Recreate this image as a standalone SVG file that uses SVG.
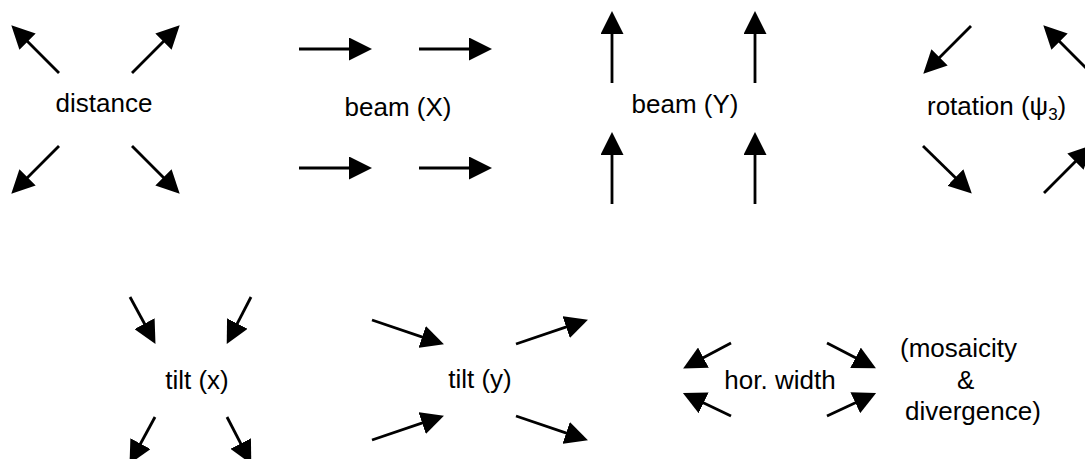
<svg xmlns="http://www.w3.org/2000/svg" width="1085" height="459" viewBox="0 0 1085 459">
  <style>
    .lbl { font-family: "Liberation Sans", Arial, sans-serif; font-size: 26px; fill: #000; }
    .mid { text-anchor: middle; }
    .arr { stroke: #000; stroke-width: 2.8; fill: none; marker-end: url(#head); }
  </style>
  <defs>
    <marker id="head" markerUnits="userSpaceOnUse" markerWidth="23" markerHeight="23" viewBox="0 0 23 23" refX="12" refY="11.5" orient="auto">
      <path d="M0,0 L23,11.5 L0,23 z" fill="#000"/>
    </marker>
  </defs>
  <rect width="1085" height="459" fill="#fff"/>

  <g id="connectors">
    <g id="arrows-distance">
      <line class="arr" x1="59" y1="73" x2="19.07" y2="33.07"/>
      <line class="arr" x1="132" y1="73" x2="171.93" y2="33.07"/>
      <line class="arr" x1="59" y1="146" x2="19.07" y2="185.93"/>
      <line class="arr" x1="132" y1="146" x2="171.93" y2="185.93"/>
    </g>
    <g id="arrows-beamx">
      <line class="arr" x1="299" y1="49" x2="361" y2="49"/>
      <line class="arr" x1="419" y1="49" x2="481" y2="49"/>
      <line class="arr" x1="299" y1="168" x2="361" y2="168"/>
      <line class="arr" x1="419" y1="168" x2="481" y2="168"/>
    </g>
    <g id="arrows-beamy">
      <line class="arr" x1="612" y1="83" x2="612" y2="22"/>
      <line class="arr" x1="755" y1="83" x2="755" y2="22"/>
      <line class="arr" x1="612" y1="204" x2="612" y2="143"/>
      <line class="arr" x1="755" y1="204" x2="755" y2="143"/>
    </g>
    <g id="arrows-rotation">
      <line class="arr" x1="971" y1="26" x2="931.07" y2="65.93"/>
      <line class="arr" x1="1091" y1="73" x2="1051.07" y2="33.07"/>
      <line class="arr" x1="923" y1="146" x2="963.93" y2="185.93"/>
      <line class="arr" x1="1044" y1="193" x2="1083.93" y2="153.07"/>
    </g>
    <g id="arrows-tiltx">
      <line class="arr" x1="130" y1="297" x2="150.22" y2="334.21"/>
      <line class="arr" x1="251" y1="297" x2="231.78" y2="334.21"/>
      <line class="arr" x1="155" y1="417" x2="134.78" y2="454.21"/>
      <line class="arr" x1="227" y1="417" x2="246.22" y2="454.21"/>
    </g>
    <g id="arrows-tilty">
      <line class="arr" x1="372" y1="320" x2="433.53" y2="340.80"/>
      <line class="arr" x1="516" y1="344" x2="577.53" y2="323.20"/>
      <line class="arr" x1="372" y1="440" x2="433.53" y2="419.20"/>
      <line class="arr" x1="516" y1="416" x2="577.53" y2="436.80"/>
    </g>
    <g id="arrows-horwidth">
      <line class="arr" x1="731" y1="343" x2="692.83" y2="363.30"/>
      <line class="arr" x1="827" y1="343" x2="866.17" y2="363.30"/>
      <line class="arr" x1="731" y1="416" x2="692.83" y2="397.70"/>
      <line class="arr" x1="827" y1="416" x2="866.17" y2="397.70"/>
    </g>
  </g>

  <g id="distance"><text class="lbl mid" x="104" y="112">distance</text></g>
  <g id="beam-x"><text class="lbl mid" x="398" y="116">beam (X)</text></g>
  <g id="beam-y"><text class="lbl mid" x="685" y="113">beam (Y)</text></g>
  <g id="rotation"><text class="lbl" x="927" y="115">rotation (ψ<tspan font-size="17" dy="5">3</tspan><tspan dy="-5">)</tspan></text></g>
  <g id="tilt-x"><text class="lbl mid" x="197" y="389">tilt (x)</text></g>
  <g id="tilt-y"><text class="lbl mid" x="480" y="388">tilt (y)</text></g>
  <g id="hor-width"><text class="lbl mid" x="780" y="389">hor. width</text></g>
  <g id="mosaicity">
    <text class="lbl" x="900" y="357">(mosaicity</text>
    <text class="lbl" x="957" y="389">&amp;</text>
    <text class="lbl" x="905" y="420">divergence)</text>
  </g>
</svg>
